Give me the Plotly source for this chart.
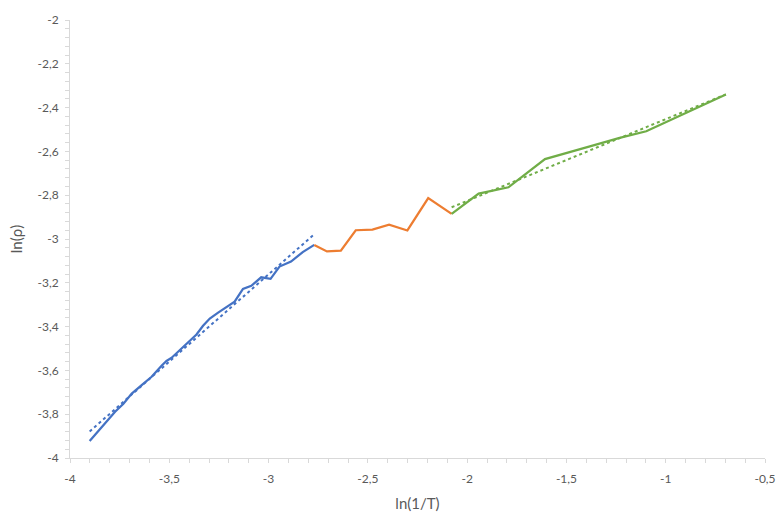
import numpy as np
import plotly.graph_objects as go

# Series 1 (blue)
blue_x = [-3.901, -3.839, -3.814, -3.773, -3.731, -3.689, -3.639, -3.589, -3.539, -3.514,
          -3.488, -3.447, -3.405, -3.363, -3.330, -3.296, -3.254, -3.213, -3.171, -3.129,
          -3.087, -3.037, -2.990, -2.945, -2.887, -2.828, -2.770]
blue_y = [-3.922, -3.858, -3.835, -3.789, -3.752, -3.706, -3.667, -3.629, -3.579, -3.557,
          -3.542, -3.507, -3.472, -3.436, -3.396, -3.363, -3.336, -3.312, -3.286, -3.228,
          -3.214, -3.175, -3.182, -3.126, -3.103, -3.060, -3.027]

# Series 2 (orange)
orange_x = [-2.770, -2.706, -2.636, -2.561, -2.477, -2.393, -2.301, -2.196, -2.078]
orange_y = [-3.027, -3.057, -3.053, -2.960, -2.957, -2.935, -2.961, -2.813, -2.885]

# Series 3 (green)
green_x = [-2.078, -1.942, -1.792, -1.608, -1.382, -1.232, -1.098, -0.914, -0.697]
green_y = [-2.885, -2.793, -2.764, -2.635, -2.577, -2.538, -2.508, -2.432, -2.340]

x_tickvals = [-4, -3.5, -3, -2.5, -2, -1.5, -1, -0.5]
x_ticktext = ["-4", "-3,5", "-3", "-2,5", "-2", "-1,5", "-1", "-0,5"]
y_tickvals = [-4, -3.8, -3.6, -3.4, -3.2, -3, -2.8, -2.6, -2.4, -2.2, -2]
y_ticktext = ["-4", "-3,8", "-3,6", "-3,4", "-3,2", "-3", "-2,8", "-2,6", "-2,4", "-2,2", "-2"]

BLUE = "#4472C4"
ORANGE = "#ED7D31"
GREEN = "#70AD47"
FONT = "Lato, Open Sans, sans-serif"


def trend(xs, ys):
    k, b = np.polyfit(xs, ys, 1)
    tx = np.array([min(xs), max(xs)])
    return tx, k * tx + b


fig = go.Figure()

bt_x, bt_y = trend(blue_x, blue_y)
gt_x, gt_y = trend(green_x, green_y)

fig.add_trace(go.Scatter(x=bt_x, y=bt_y, mode="lines",
                         line=dict(color=BLUE, width=2, dash="dot"), hoverinfo="skip"))
fig.add_trace(go.Scatter(x=gt_x, y=gt_y, mode="lines",
                         line=dict(color=GREEN, width=2, dash="dot"), hoverinfo="skip"))
fig.add_trace(go.Scatter(x=blue_x, y=blue_y, mode="lines", line=dict(color=BLUE, width=2.25)))
fig.add_trace(go.Scatter(x=orange_x, y=orange_y, mode="lines", line=dict(color=ORANGE, width=2.25)))
fig.add_trace(go.Scatter(x=green_x, y=green_y, mode="lines", line=dict(color=GREEN, width=2.25)))

axis_common = dict(
    showgrid=False, zeroline=False, showline=True, linecolor="#D9D9D9", linewidth=1,
    ticks="outside", ticklen=4, tickcolor="#D9D9D9", automargin=False,
    tickfont=dict(family=FONT, size=12, color="#595959"),
)

fig.update_xaxes(
    range=[-4, -0.5], tickvals=x_tickvals, ticktext=x_ticktext,
    minor=dict(ticks="outside", dtick=0.1, ticklen=4, tickcolor="#D9D9D9"),
    ticklabelstandoff=6,
    title=dict(text="ln(1/T)", font=dict(family=FONT, size=15, color="#595959"), standoff=15),
    **axis_common,
)
fig.update_yaxes(
    range=[-4, -2], tickvals=y_tickvals, ticktext=y_ticktext,
    minor=dict(ticks="outside", dtick=0.04, ticklen=4, tickcolor="#D9D9D9"),
    ticklabelstandoff=4,
    title=dict(text="ln(ρ)", font=dict(family=FONT, size=15, color="#595959"), standoff=11),
    **axis_common,
)

fig.update_layout(
    width=777, height=512,
    margin=dict(l=70, r=12, t=20, b=54),
    paper_bgcolor="white", plot_bgcolor="white",
    showlegend=False,
)

# Remove the browser's default page margin so the figure fills the window.
fig.write_html(
    "out.html",
    config={"displayModeBar": False},
    post_script="document.body.style.margin='0';document.body.style.overflow='hidden';",
)
